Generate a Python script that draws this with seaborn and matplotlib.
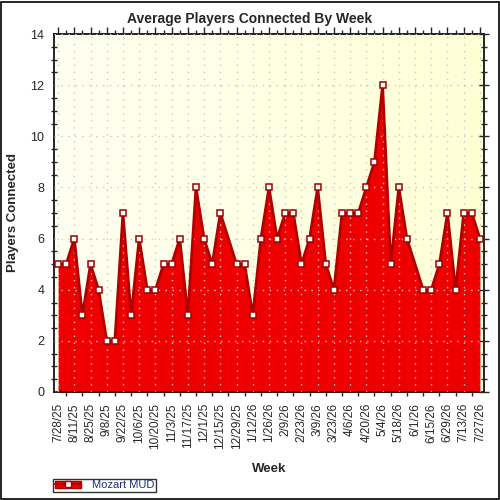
import numpy as np
import pandas as pd
import matplotlib
matplotlib.use("Agg")
import matplotlib.pyplot as plt
import seaborn as sns
from matplotlib.lines import Line2D
from matplotlib.patches import Patch, Rectangle

weeks = [
    "7/28/25", "8/4/25", "8/11/25", "8/18/25", "8/25/25", "9/1/25", "9/8/25",
    "9/15/25", "9/22/25", "9/29/25", "10/6/25", "10/13/25", "10/20/25",
    "10/27/25", "11/3/25", "11/10/25", "11/17/25", "11/24/25", "12/1/25",
    "12/8/25", "12/15/25", "12/22/25", "12/29/25", "1/5/26", "1/12/26",
    "1/19/26", "1/26/26", "2/2/26", "2/9/26", "2/16/26", "2/23/26", "3/2/26",
    "3/9/26", "3/16/26", "3/23/26", "3/30/26", "4/6/26", "4/13/26", "4/20/26",
    "4/27/26", "5/4/26", "5/11/26", "5/18/26", "5/25/26", "6/1/26", "6/8/26",
    "6/15/26", "6/22/26", "6/29/26", "7/6/26", "7/13/26", "7/20/26", "7/27/26",
]
players = [
    5, 5, 6, 3, 5, 4, 2, 2, 7, 3, 6, 4, 4, 5, 5, 6, 3, 8, 6, 5, 7, None, 5,
    5, 3, 6, 8, 6, 7, 7, 5, 6, 8, 5, 4, 7, 7, 7, 8, 9, 12, 5, 8, 6, None, 4,
    4, 5, 7, 4, 7, 7, 6,
]
series_name = "Mozart MUD"

df = pd.DataFrame({"week": weeks, "players": players})
df["idx"] = np.arange(len(df))
valid = df.dropna(subset=["players"])

sns.set_style("white")
plt.rcParams["font.family"] = ["Liberation Sans", "DejaVu Sans"]

fig = plt.figure(figsize=(5, 5), dpi=100)
fig.patches.append(Rectangle((0.002, 0.002), 0.995, 0.995, transform=fig.transFigure,
                             fill=False, edgecolor="black", linewidth=1.2))
ax = fig.add_axes([0.108, 0.216, 0.86, 0.716])

# cream gradient background
grad = np.linspace(0, 1, 256).reshape(1, -1)
ax.imshow(grad, extent=[0, 1, 0, 1], transform=ax.transAxes, aspect="auto",
          cmap=matplotlib.colors.LinearSegmentedColormap.from_list(
              "cream", ["#fffff2", "#ffffd6"]), zorder=0)

ax.fill_between(valid["idx"], valid["players"], 0, color="#ee0000", zorder=2,
                linewidth=0)
sns.lineplot(data=valid, x="idx", y="players", ax=ax, color="#b00000",
             linewidth=2, marker="s", markersize=5, markerfacecolor="white",
             markeredgecolor="#a00000", markeredgewidth=1.1, zorder=3)

ax.set_xlim(-0.5, len(weeks) - 0.5)
ax.set_ylim(0, 14)
ax.set_xticks(range(0, len(weeks), 2))
ax.set_xticklabels(weeks[::2], rotation=90, fontsize=8.5)
ax.set_xticks(range(len(weeks)), minor=True)
ax.set_yticks(range(0, 15, 2))
ax.set_yticks(np.arange(0, 14.01, 0.5), minor=True)
ax.tick_params(axis="y", labelsize=9, direction="inout", length=7, width=1,
               right=True, labelright=False)
ax.tick_params(axis="y", which="minor", direction="inout", length=5, width=1,
               right=True, left=True)
ax.tick_params(axis="x", direction="out", length=5, width=1, top=True,
               labeltop=False, pad=3)
ax.tick_params(axis="x", which="minor", direction="out", length=3, width=1,
               top=True, bottom=True)
ax.grid(True, which="major", color="#c8c8c8", linestyle=(0, (1, 4)),
        linewidth=1, zorder=1)
ax.set_axisbelow(False)
for s in ax.spines.values():
    s.set_color("black")
    s.set_linewidth(1.2)

fig.text(0.5, 0.962, "Average Players Connected By Week", fontsize=10,
         fontweight="bold", ha="center", va="center")
ax.set_xlabel("Week", fontsize=9.5, fontweight="bold", labelpad=10)
ax.set_ylabel("Players Connected", fontsize=9.5, fontweight="bold", labelpad=8)

handle = (Patch(facecolor="#ee0000", edgecolor="#b00000"),
          Line2D([], [], color="#b00000", marker="s", markersize=5,
                 markerfacecolor="white", markeredgecolor="#a00000"))
leg = fig.legend([handle], [series_name], loc="lower left",
                 bbox_to_anchor=(0.106, 0.016), fontsize=8, frameon=True,
                 fancybox=False, edgecolor="black", borderpad=0.15,
                 handlelength=2.4, handletextpad=1.0, borderaxespad=0)
leg.get_frame().set_linewidth(1)
leg.get_texts()[0].set_color("#1a2f80")

fig.savefig("out.png", dpi=100)
